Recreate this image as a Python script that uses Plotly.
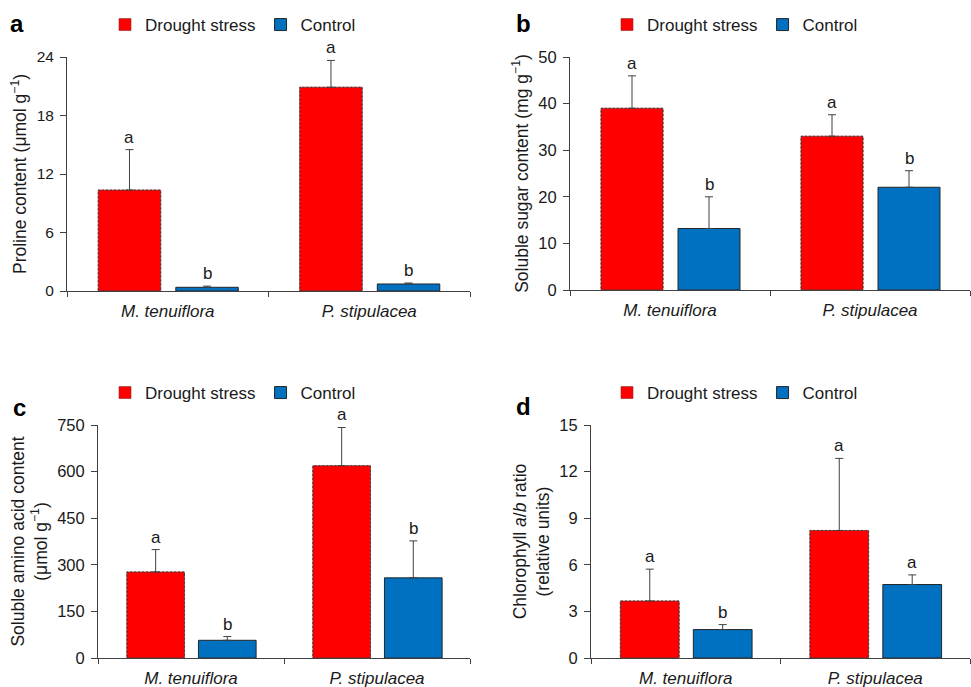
import plotly.graph_objects as go

species = ["M. tenuiflora", "P. stipulacea"]
series_names = ["Drought stress", "Control"]

proline_drought = [10.35, 20.9]
proline_drought_err = [4.15, 2.75]
proline_control = [0.38, 0.72]
proline_control_err = [0.12, 0.10]
proline_letters_drought = ["a", "a"]
proline_letters_control = ["b", "b"]

sugar_drought = [39.0, 33.0]
sugar_drought_err = [6.95, 4.6]
sugar_control = [13.2, 22.05]
sugar_control_err = [6.8, 3.55]
sugar_letters_drought = ["a", "a"]
sugar_letters_control = ["b", "b"]

amino_drought = [277, 619]
amino_drought_err = [72, 123]
amino_control = [57, 258]
amino_control_err = [12, 119]
amino_letters_drought = ["a", "a"]
amino_letters_control = ["b", "b"]

chl_drought = [3.67, 8.21]
chl_drought_err = [2.05, 4.64]
chl_control = [1.83, 4.73]
chl_control_err = [0.32, 0.62]
chl_letters_drought = ["a", "a"]
chl_letters_control = ["b", "a"]

proline_ticks = [0, 6, 12, 18, 24]
sugar_ticks = [0, 10, 20, 30, 40, 50]
amino_ticks = [0, 150, 300, 450, 600, 750]
chl_ticks = [0, 3, 6, 9, 12, 15]

panel_labels = ["a", "b", "c", "d"]
y_titles = [
    "Proline content (μmol g<sup>−1</sup>)",
    "Soluble sugar content (mg g<sup>−1</sup>)",
    "Soluble amino acid content<br>(μmol g<sup>−1</sup>)",
    "Chlorophyll <i>a</i>/<i>b</i> ratio<br>(relative units)",
]

panels = [
    (proline_drought, proline_drought_err, proline_control, proline_control_err,
     proline_letters_drought, proline_letters_control, proline_ticks),
    (sugar_drought, sugar_drought_err, sugar_control, sugar_control_err,
     sugar_letters_drought, sugar_letters_control, sugar_ticks),
    (amino_drought, amino_drought_err, amino_control, amino_control_err,
     amino_letters_drought, amino_letters_control, amino_ticks),
    (chl_drought, chl_drought_err, chl_control, chl_control_err,
     chl_letters_drought, chl_letters_control, chl_ticks),
]

W, H = 971, 687
RED = "#FF0000"
BLUE = "#0070C0"
DARK = "#262626"
AXIS = "#404040"
FONT = "Liberation Sans, Arial, sans-serif"

# plot-area pixel boxes (left, right, top, bottom)
boxes = [(67, 470, 57, 291), (570, 970, 57, 290), (98, 470, 425, 658), (591, 970, 425, 658)]
legend_pos = [(105, 25), (607, 25), (105, 393), (607, 393)]
letter_pos = [(17, 24), (523, 24), (19, 407), (523, 406)]
ytick_sizes = [15.5, 16.5, 16.5, 16.5]
title_standoff = [5, 5, 5, 5]

BAR_W = 0.31
OFF_D = -0.345
OFF_C = 0.04

fig = go.Figure()
shapes = []
annotations = []
layout = {}

for k, (dv, de, cv, ce, ld, lc, ticks) in enumerate(panels):
    n = k + 1
    sfx = "" if n == 1 else str(n)
    xa, ya = "x" + sfx, "y" + sfx
    lg = "legend" + sfx
    fig.add_trace(go.Bar(
        x=species, y=dv, name=series_names[0], xaxis=xa, yaxis=ya, legend=lg,
        width=BAR_W, offset=OFF_D,
        marker=dict(color=RED, line=dict(color="#8a2a2a", width=0.6)),
        error_y=dict(type="data", symmetric=False, array=de, arrayminus=[0] * len(de),
                     color=AXIS, thickness=1, width=4),
    ))
    fig.add_trace(go.Bar(
        x=species, y=cv, name=series_names[1], xaxis=xa, yaxis=ya, legend=lg,
        width=BAR_W, offset=OFF_C,
        marker=dict(color=BLUE, line=dict(color=DARK, width=1)),
        error_y=dict(type="data", symmetric=False, array=ce, arrayminus=[0] * len(ce),
                     color=AXIS, thickness=1, width=4),
    ))
    # dotted outline of the drought bars
    for i, v in enumerate(dv):
        shapes.append(dict(type="rect", xref=xa, yref=ya,
                           x0=i + OFF_D, x1=i + OFF_D + BAR_W, y0=0, y1=v,
                           line=dict(color="#3a3a3a", width=1, dash="2px,2px"),
                           layer="above"))
    # significance letters
    for i in range(len(species)):
        annotations.append(dict(x=i + OFF_D + BAR_W / 2, y=dv[i] + de[i], xref=xa, yref=ya,
                                text=ld[i], showarrow=False, yanchor="bottom", yshift=1,
                                font=dict(size=17, color="#1a1a1a", family=FONT)))
        annotations.append(dict(x=i + OFF_C + BAR_W / 2, y=cv[i] + ce[i], xref=xa, yref=ya,
                                text=lc[i], showarrow=False, yanchor="bottom", yshift=1,
                                font=dict(size=17, color="#1a1a1a", family=FONT)))
    l, r, t, b = boxes[k]
    layout["xaxis" + sfx] = dict(
        domain=[l / W, r / W], anchor=ya, type="category", range=[-0.5, 1.5],
        showline=True, linecolor=AXIS, linewidth=1, ticks="outside", ticklen=5,
        tickcolor=AXIS, tickson="boundaries", showgrid=False, zeroline=False,
        ticklabelstandoff=5,
        tickfont=dict(size=17, color="#1a1a1a", family=FONT, style="italic"),
        fixedrange=True,
    )
    layout["yaxis" + sfx] = dict(
        domain=[1 - b / H, 1 - t / H], anchor=xa, range=[0, ticks[-1]],
        tickmode="array", tickvals=ticks, showline=True, linecolor=AXIS, linewidth=1,
        ticks="outside", ticklen=6, tickcolor=AXIS, showgrid=False, zeroline=False,
        ticklabelstandoff=3,
        tickfont=dict(size=ytick_sizes[k], color="#1a1a1a", family=FONT),
        title=dict(text=y_titles[k], standoff=title_standoff[k],
                   font=dict(size=17.5, color="#1a1a1a", family=FONT)),
        fixedrange=True,
    )
    lx, ly = legend_pos[k]
    layout[lg] = dict(
        orientation="h", x=lx / W, y=1 - ly / H, xanchor="left", yanchor="middle",
        font=dict(size=17, color="#1a1a1a", family=FONT), bgcolor="rgba(0,0,0,0)",
        traceorder="normal",
    )
    px_, py_ = letter_pos[k]
    annotations.append(dict(x=px_ / W, y=1 - py_ / H, xref="paper", yref="paper",
                            text="<b>%s</b>" % panel_labels[k], showarrow=False,
                            xanchor="center", yanchor="middle",
                            font=dict(size=24, color="#000000", family=FONT)))

fig.update_layout(
    width=W, height=H, margin=dict(l=0, r=0, t=0, b=0, autoexpand=False),
    paper_bgcolor="white", plot_bgcolor="white",
    barmode="overlay", shapes=shapes, annotations=annotations,
    font=dict(family=FONT, color="#1a1a1a"),
    **layout,
)

fig.write_html("out.html", config={"displayModeBar": False},
               post_script="document.body.style.margin='0';")
